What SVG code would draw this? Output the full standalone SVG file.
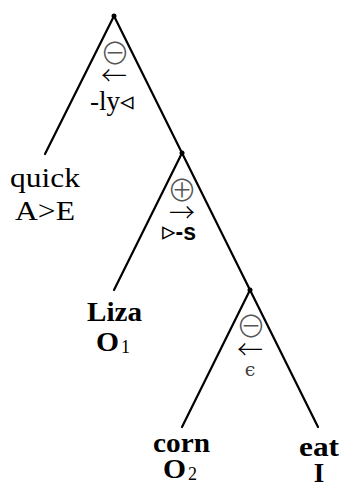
<svg xmlns="http://www.w3.org/2000/svg" width="339" height="484" viewBox="0 0 339 484">
<style>
.edge{stroke:#000;stroke-width:2.2;fill:none;stroke-linecap:round}
.dot{fill:#000}
.rm{font-family:"Liberation Serif",serif;font-size:27px;fill:#000}
.bf{font-family:"Liberation Serif",serif;font-size:27px;font-weight:bold;fill:#000}
.sub{font-family:"Liberation Serif",serif;font-size:18px;fill:#000}
.op{font-family:"Noto Sans CJK JP","DejaVu Sans",sans-serif;font-size:30px;font-weight:300;fill:#555}
.arr{font-family:"Noto Sans CJK JP","DejaVu Sans",sans-serif;font-size:26px;font-weight:300;fill:#000}
.tri{font-family:"DejaVu Sans",sans-serif;font-size:27px;fill:#000}
.sf{font-family:"Liberation Sans",sans-serif;font-size:23px;font-weight:bold;fill:#000}
.eps{font-family:"DejaVu Serif",serif;font-size:19px;fill:#444}
</style>
<g id="connectors">
<line class="edge" x1="114" y1="16" x2="45" y2="154"/>
<line class="edge" x1="114" y1="16" x2="182" y2="153"/>
<line class="edge" x1="182" y1="153" x2="114" y2="290"/>
<line class="edge" x1="182" y1="153" x2="250" y2="290"/>
<line class="edge" x1="250" y1="290" x2="182" y2="427"/>
<line class="edge" x1="250" y1="290" x2="318" y2="427"/>
</g>
<g id="n1">
<circle class="dot" cx="114" cy="16" r="2.5"/>
<text class="op" x="115" y="64" text-anchor="middle">⊖</text>
<text class="arr" x="114" y="85" text-anchor="middle" textLength="26" lengthAdjust="spacingAndGlyphs">←</text>
<text class="rm" x="90" y="110">-ly<tspan class="tri">◃</tspan></text>
</g>
<g id="n2">
<circle class="dot" cx="182" cy="153" r="2.5"/>
<text class="op" x="182" y="201" text-anchor="middle">⊕</text>
<text class="arr" x="182" y="222" text-anchor="middle" textLength="26" lengthAdjust="spacingAndGlyphs">→</text>
<text class="tri" x="162" y="240">▹<tspan class="sf">-s</tspan></text>
</g>
<g id="n3">
<circle class="dot" cx="250" cy="290" r="2.5"/>
<text class="op" x="251" y="337" text-anchor="middle">⊖</text>
<text class="arr" x="250" y="359" text-anchor="middle" textLength="26" lengthAdjust="spacingAndGlyphs">←</text>
<text class="eps" x="250" y="376" text-anchor="middle">ϵ</text>
</g>
<g id="quick">
<text class="rm" x="45" y="187" text-anchor="middle" textLength="70" lengthAdjust="spacingAndGlyphs">quick</text>
<text class="rm" x="45" y="220" text-anchor="middle" textLength="60" lengthAdjust="spacingAndGlyphs">A&gt;E</text>
</g>
<g id="liza">
<text class="bf" x="114.5" y="321" text-anchor="middle" textLength="55" lengthAdjust="spacingAndGlyphs">Liza</text>
<text class="bf" x="96" y="351" textLength="23" lengthAdjust="spacingAndGlyphs">O</text>
<text class="sub" x="121" y="353">1</text>
</g>
<g id="corn">
<text class="bf" x="181.5" y="452" text-anchor="middle" textLength="57" lengthAdjust="spacingAndGlyphs">corn</text>
<text class="bf" x="163" y="478" textLength="23" lengthAdjust="spacingAndGlyphs">O</text>
<text class="sub" x="188" y="480">2</text>
</g>
<g id="eat">
<text class="bf" x="319" y="456" text-anchor="middle" textLength="40" lengthAdjust="spacingAndGlyphs">eat</text>
<text class="bf" x="319" y="482" text-anchor="middle">I</text>
</g>
</svg>
